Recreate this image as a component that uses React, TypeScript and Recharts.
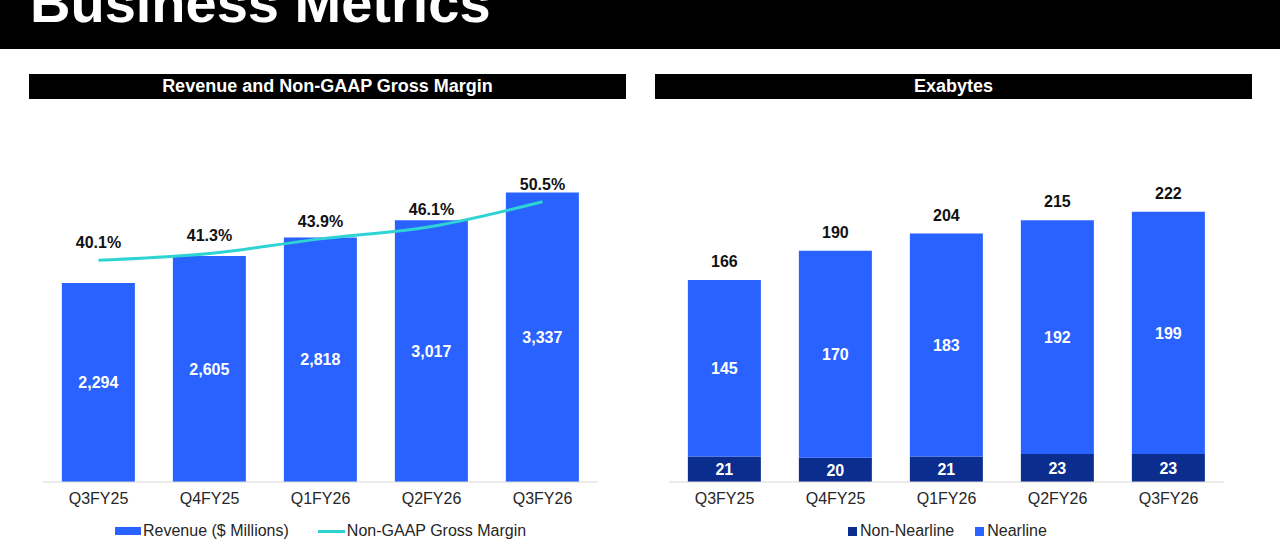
import React from 'react';
import { ComposedChart, BarChart, Bar, Line, XAxis, YAxis, LabelList } from 'recharts';

const quarters = ['Q3FY25', 'Q4FY25', 'Q1FY26', 'Q2FY26', 'Q3FY26'];
const revenue = [2294, 2605, 2818, 3017, 3337];
const grossMargin = [40.1, 41.3, 43.9, 46.1, 50.5];
const nonNearline = [21, 20, 21, 23, 23];
const nearline = [145, 170, 183, 192, 199];
const exabyteTotals = [166, 190, 204, 215, 222];

const FONT = '"Liberation Sans", Arial, Helvetica, sans-serif';
const BLUE = '#2962FF';
const NAVY = '#0B2D8E';
const TEAL = '#2ED3D3';
const TEXT = '#262626';

const revData = quarters.map((q, i) => ({ q, revenue: revenue[i], margin: grossMargin[i] }));
const exaData = quarters.map((q, i) => ({
  q,
  nonNearline: nonNearline[i],
  nearline: nearline[i],
  total: exabyteTotals[i],
}));

const tickStyle = { fontSize: 16, fill: TEXT, fontFamily: FONT };

export default function App() {
  return (
    <div
      style={{
        position: 'absolute',
        left: 0,
        top: 0,
        width: 1280,
        height: 544,
        background: '#fff',
        overflow: 'hidden',
        fontFamily: FONT,
      }}
    >
      {/* Title bar */}
      <div style={{ position: 'absolute', left: 0, top: 0, width: 1280, height: 49, background: '#000' }} />
      <svg style={{ position: 'absolute', left: 0, top: 0 }} width={1280} height={49}>
        <text x={30} y={22} fill="#fff" fontSize={56} fontWeight="bold" fontFamily={FONT}>
          Business Metrics
        </text>
      </svg>

      {/* Subtitle bars */}
      <div
        style={{
          position: 'absolute',
          left: 29,
          top: 74,
          width: 597,
          height: 25,
          background: '#000',
          color: '#fff',
          fontWeight: 'bold',
          fontSize: 18,
          lineHeight: '25px',
          textAlign: 'center',
        }}
      >
        Revenue and Non-GAAP Gross Margin
      </div>
      <div
        style={{
          position: 'absolute',
          left: 655,
          top: 74,
          width: 597,
          height: 25,
          background: '#000',
          color: '#fff',
          fontWeight: 'bold',
          fontSize: 18,
          lineHeight: '25px',
          textAlign: 'center',
        }}
      >
        Exabytes
      </div>

      {/* Left chart */}
      <div style={{ position: 'absolute', left: 0, top: 100 }}>
        <ComposedChart
          width={640}
          height={444}
          data={revData}
          margin={{ top: 35, right: 42, left: 43, bottom: 32 }}
          barCategoryGap="17%"
        >
          <XAxis
            dataKey="q"
            height={30}
            tickLine={false}
            axisLine={{ stroke: '#d9d9d9' }}
            tick={tickStyle}
            tickMargin={5}
          />
          <YAxis yAxisId="rev" hide domain={[0, 4000]} />
          <YAxis yAxisId="pct" hide domain={[0.6, 62.4]} allowDataOverflow />
          <Bar yAxisId="rev" dataKey="revenue" fill={BLUE} isAnimationActive={false}>
            <LabelList
              dataKey="revenue"
              position="center"
              fill="#fff"
              fontSize={16}
              fontWeight="bold"
              fontFamily={FONT}
              formatter={(v: number) => v.toLocaleString('en-US')}
            />
          </Bar>
          <Line
            yAxisId="pct"
            type="monotone"
            dataKey="margin"
            stroke={TEAL}
            strokeWidth={3}
            dot={false}
            activeDot={false}
            isAnimationActive={false}
          >
            <LabelList
              dataKey="margin"
              position="top"
              offset={12}
              fill="#111"
              fontSize={16}
              fontWeight="bold"
              fontFamily={FONT}
              formatter={(v: number) => `${v.toFixed(1)}%`}
            />
          </Line>
        </ComposedChart>
      </div>

      {/* Right chart */}
      <div style={{ position: 'absolute', left: 640, top: 100 }}>
        <BarChart
          width={640}
          height={444}
          data={exaData}
          margin={{ top: 35, right: 56, left: 29, bottom: 32 }}
          barCategoryGap="17%"
        >
          <XAxis
            dataKey="q"
            height={30}
            tickLine={false}
            axisLine={{ stroke: '#d9d9d9' }}
            tick={tickStyle}
            tickMargin={5}
          />
          <YAxis hide domain={[0, 285]} />
          <Bar dataKey="nonNearline" stackId="a" fill={NAVY} isAnimationActive={false}>
            <LabelList
              dataKey="nonNearline"
              position="center"
              fill="#fff"
              fontSize={16}
              fontWeight="bold"
              fontFamily={FONT}
            />
          </Bar>
          <Bar dataKey="nearline" stackId="a" fill={BLUE} isAnimationActive={false}>
            <LabelList
              dataKey="nearline"
              position="center"
              fill="#fff"
              fontSize={16}
              fontWeight="bold"
              fontFamily={FONT}
            />
            <LabelList
              dataKey="total"
              position="top"
              offset={13}
              fill="#111"
              fontSize={16}
              fontWeight="bold"
              fontFamily={FONT}
            />
          </Bar>
        </BarChart>
      </div>

      {/* Left legend */}
      <div
        style={{
          position: 'absolute',
          left: 115,
          top: 521,
          height: 20,
          display: 'flex',
          alignItems: 'center',
          fontSize: 16,
          color: TEXT,
          whiteSpace: 'nowrap',
        }}
      >
        <span style={{ display: 'inline-block', width: 26, height: 8, background: BLUE, marginRight: 2 }} />
        <span>Revenue ($ Millions)</span>
        <span style={{ display: 'inline-block', width: 27, height: 3, background: TEAL, marginLeft: 29, marginRight: 2 }} />
        <span>Non-GAAP Gross Margin</span>
      </div>

      {/* Right legend */}
      <div
        style={{
          position: 'absolute',
          left: 848,
          top: 521,
          height: 20,
          display: 'flex',
          alignItems: 'center',
          fontSize: 16,
          color: TEXT,
          whiteSpace: 'nowrap',
        }}
      >
        <span style={{ display: 'inline-block', width: 9, height: 9, background: NAVY, marginRight: 3 }} />
        <span>Non-Nearline</span>
        <span style={{ display: 'inline-block', width: 9, height: 9, background: BLUE, marginLeft: 21, marginRight: 3 }} />
        <span>Nearline</span>
      </div>
    </div>
  );
}
